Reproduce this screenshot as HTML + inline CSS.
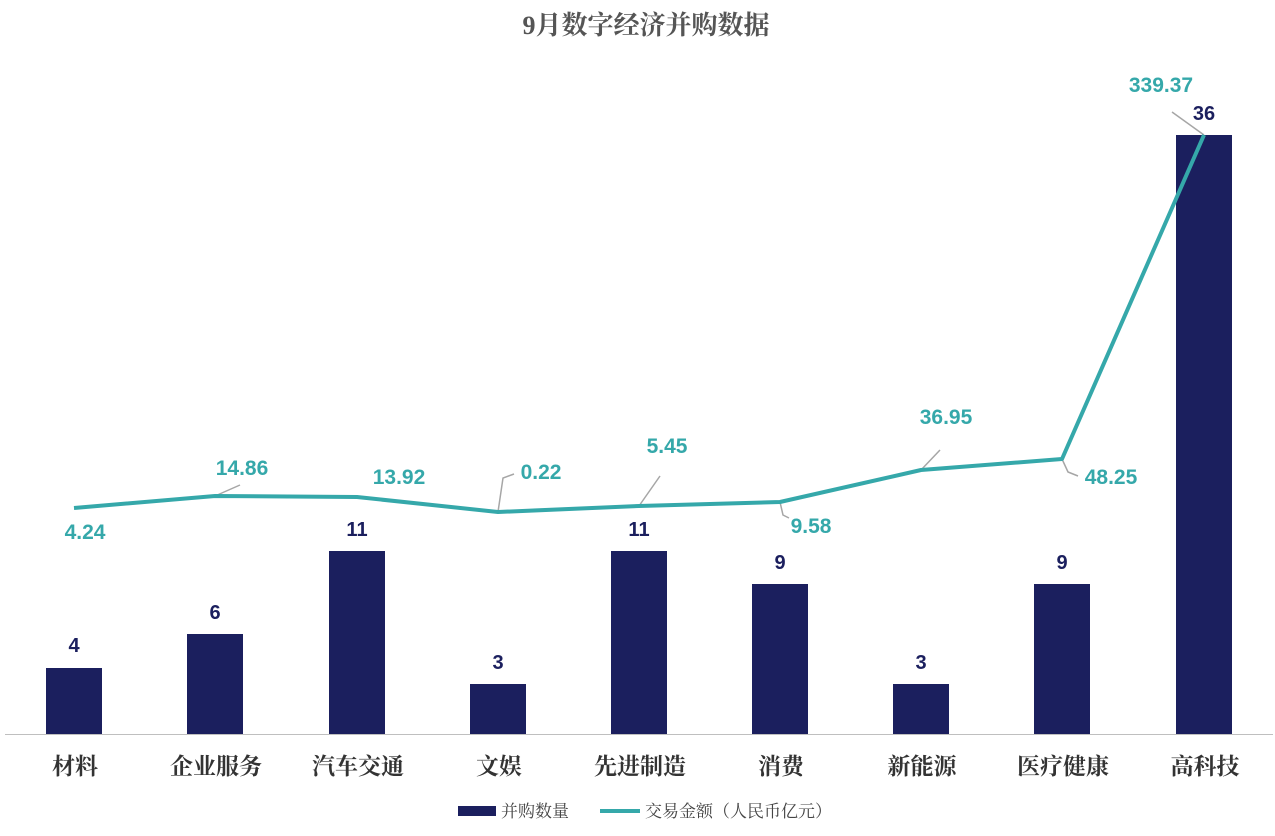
<!DOCTYPE html>
<html><head><meta charset="utf-8"><style>
body{margin:0;background:#fff;}
svg text{font-family:"Liberation Sans","Noto Sans CJK SC",sans-serif;}
.cat{font-family:"Liberation Serif","Noto Serif CJK SC",serif;font-size:23px;font-weight:bold;fill:#333;text-anchor:middle;}
.bl{font-size:20px;font-weight:bold;fill:#1b1f5e;text-anchor:middle;}
.vl{font-size:21px;font-weight:bold;fill:#35a8aa;text-anchor:middle;}
.ld{stroke:#a6a6a6;stroke-width:1.5;fill:none;}
</style></head><body>
<svg width="1275" height="831" viewBox="0 0 1275 831" xmlns="http://www.w3.org/2000/svg">
<text x="646" y="34" text-anchor="middle" style="font-family:'Liberation Serif','Noto Serif CJK SC',serif;font-size:26px;font-weight:bold;fill:#555">9月数字经济并购数据</text>
<g fill="#1b1f5e">
<rect x="46" y="668" width="56" height="66"/>
<rect x="187" y="634" width="56" height="100"/>
<rect x="329" y="551" width="56" height="183"/>
<rect x="470" y="684" width="56" height="50"/>
<rect x="611" y="551" width="56" height="183"/>
<rect x="752" y="584" width="56" height="150"/>
<rect x="893" y="684" width="56" height="50"/>
<rect x="1034" y="584" width="56" height="150"/>
<rect x="1176" y="135" width="56" height="599"/>
</g>
<line x1="5" y1="734.5" x2="1273" y2="734.5" stroke="#bfbfbf" stroke-width="1"/>
<g>
<text class="bl" x="74" y="652">4</text>
<text class="bl" x="215" y="619">6</text>
<text class="bl" x="357" y="536">11</text>
<text class="bl" x="498" y="669">3</text>
<text class="bl" x="639" y="536">11</text>
<text class="bl" x="780" y="569">9</text>
<text class="bl" x="921" y="669">3</text>
<text class="bl" x="1062" y="569">9</text>
<text class="bl" x="1204" y="120">36</text>
</g>
<g class="ld">
<polyline points="215,496 240,485"/>
<polyline points="498,512 503,478 514,474"/>
<polyline points="639,506 660,476"/>
<polyline points="780,502 783,515 789,518"/>
<polyline points="921,470 940,450"/>
<polyline points="1062,459 1068,472 1078,476"/>
<polyline points="1204,135 1172,112"/>
</g>
<polyline points="74,508 215,496 357,497 498,512 639,506 780,502 921,470 1062,459 1204,135" fill="none" stroke="#35a8aa" stroke-width="4" stroke-linejoin="round"/>
<g>
<text class="vl" x="85" y="539">4.24</text>
<text class="vl" x="242" y="475">14.86</text>
<text class="vl" x="399" y="484">13.92</text>
<text class="vl" x="541" y="479">0.22</text>
<text class="vl" x="667" y="453">5.45</text>
<text class="vl" x="811" y="533">9.58</text>
<text class="vl" x="946" y="424">36.95</text>
<text class="vl" x="1111" y="484">48.25</text>
<text class="vl" x="1161" y="92">339.37</text>
</g>
<g>
<text class="cat" x="75" y="774">材料</text>
<text class="cat" x="216" y="774">企业服务</text>
<text class="cat" x="358" y="774">汽车交通</text>
<text class="cat" x="499" y="774">文娱</text>
<text class="cat" x="640" y="774">先进制造</text>
<text class="cat" x="781" y="774">消费</text>
<text class="cat" x="922" y="774">新能源</text>
<text class="cat" x="1063" y="774">医疗健康</text>
<text class="cat" x="1205" y="774">高科技</text>
</g>
<rect x="458" y="806" width="38" height="10" fill="#1b1f5e"/>
<text x="501" y="817" style="font-family:'Liberation Serif','Noto Serif CJK SC',serif;font-size:17px;fill:#444">并购数量</text>
<line x1="600" y1="811" x2="640" y2="811" stroke="#35a8aa" stroke-width="4"/>
<text x="645" y="817" style="font-family:'Liberation Serif','Noto Serif CJK SC',serif;font-size:17px;fill:#444">交易金额（人民币亿元）</text>
</svg>
</body></html>
